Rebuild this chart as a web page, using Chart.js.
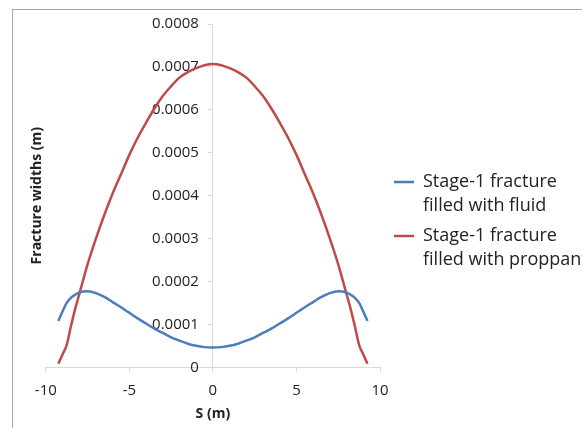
<!DOCTYPE html>
<html><head><meta charset="utf-8">
<script src="https://cdn.jsdelivr.net/npm/chart.js@4/dist/chart.umd.min.js"></script>
<style>
html,body{margin:0;padding:0;background:#fff;}
#wrap{position:relative;width:582px;height:428px;overflow:hidden;}
#frame{position:absolute;left:12px;top:9px;width:640px;height:520px;border:1px solid #a6a6a6;box-sizing:border-box;pointer-events:none;}
canvas{position:absolute;left:0;top:0;}
</style></head><body>
<div id="wrap"><canvas id="c" width="582" height="428"></canvas><div id="frame"></div></div>
<script>
const sValues = [-9.25,-9,-8.75,-8.5,-8.25,-8,-7.5,-7,-6.5,-6,-5.5,-5,-4.5,-4,-3.5,-3,-2.5,-2,-1.5,-1,-0.5,0,
  0.5,1,1.5,2,2.5,3,3.5,4,4.5,5,5.5,6,6.5,7,7.5,8,8.25,8.5,8.75,9,9.25];
const fluidWidths = [1.08e-4,1.30e-4,1.50e-4,1.62e-4,1.69e-4,1.74e-4,1.77e-4,1.73e-4,1.64e-4,1.52e-4,1.40e-4,1.27e-4,1.14e-4,1.02e-4,0.90e-4,0.80e-4,0.70e-4,0.62e-4,0.55e-4,0.50e-4,0.47e-4,0.46e-4,
  0.47e-4,0.50e-4,0.55e-4,0.62e-4,0.70e-4,0.80e-4,0.90e-4,1.02e-4,1.14e-4,1.27e-4,1.40e-4,1.52e-4,1.64e-4,1.73e-4,1.77e-4,1.74e-4,1.69e-4,1.62e-4,1.50e-4,1.30e-4,1.08e-4];
const proppantWidths = [0.08e-4,0.30e-4,0.52e-4,0.95e-4,1.35e-4,1.70e-4,2.40e-4,3.00e-4,3.55e-4,4.05e-4,4.50e-4,4.95e-4,5.35e-4,5.70e-4,6.03e-4,6.32e-4,6.55e-4,6.75e-4,6.88e-4,6.97e-4,7.04e-4,7.07e-4,
  7.04e-4,6.97e-4,6.88e-4,6.75e-4,6.55e-4,6.32e-4,6.03e-4,5.70e-4,5.35e-4,4.95e-4,4.50e-4,4.05e-4,3.55e-4,3.00e-4,2.40e-4,1.70e-4,1.35e-4,0.95e-4,0.52e-4,0.30e-4,0.08e-4];
const seriesLabels = [['Stage-1 fracture','filled with fluid'],['Stage-1 fracture','filled with proppant']];
const seriesColors = ['#4a7ebb','#be4b48'];
const xAxisTitle = 'S (m)';
const yAxisTitle = 'Fracture widths (m)';
const xMin = -10, xMax = 10, xStep = 5;
const yMin = 0, yMax = 0.0008, yStep = 0.0001;
const yAxisCrossesAt = 0;

const FONT = "'Open Sans', 'Noto Sans', sans-serif";
const series = [fluidWidths, proppantWidths];

const placement = {
  id: 'placement',
  afterLayout(chart) {
    const lg = chart.legend;
    if (lg) {
      lg.left += 8; lg.right = chart.width + 40; lg.width = lg.right - lg.left;
      lg.top += 2; lg.bottom += 2;
    }
    const y = chart.scales.y;
    const px = chart.scales.x.getPixelForValue(yAxisCrossesAt);
    y.left = px - 100; y.right = px;
  }
};

new Chart(document.getElementById('c'), {
  type: 'line',
  data: {
    datasets: series.map((vals, i) => ({
      label: seriesLabels[i],
      data: sValues.map((s, j) => ({x: s, y: vals[j]})),
      borderColor: seriesColors[i],
      backgroundColor: seriesColors[i],
      borderWidth: 2.5,
      pointRadius: 0,
      cubicInterpolationMode: 'monotone',
      fill: false
    }))
  },
  options: {
    responsive: false,
    animation: false,
    layout: {padding: {left: 29, right: 3, top: 24, bottom: 8}},
    plugins: {
      tooltip: {enabled: false},
      legend: {
        position: 'right',
        maxWidth: 199,
        labels: {
          usePointStyle: true,
          pointStyle: 'line',
          pointStyleWidth: 20,
          padding: 6,
          color: '#222',
          font: {family: FONT, size: 18, lineHeight: 1.333}
        }
      }
    },
    scales: {
      x: {
        type: 'linear',
        position: 'bottom',
        min: xMin, max: xMax,
        ticks: {stepSize: xStep, color: '#222', padding: 10, font: {family: FONT, size: 15, lineHeight: 1.1}},
        grid: {display: true, drawOnChartArea: false, drawTicks: true, tickLength: 5, color: '#d9d9d9'},
        border: {display: true, color: '#d9d9d9', width: 1},
        title: {display: true, text: xAxisTitle, color: '#222', padding: {top: 0, bottom: 0}, font: {family: FONT, size: 14, weight: 'bold', lineHeight: 0.8}}
      },
      y: {
        type: 'linear',
        position: 'left',
        weight: 1,
        min: yMin, max: yMax,
        afterFit: s => { s.width = 0; },
        ticks: {stepSize: yStep, color: '#222', padding: 9, font: {family: FONT, size: 15},
          callback: v => (Math.abs(v) < 1e-12 ? '0' : v.toFixed(4))},
        grid: {display: true, drawOnChartArea: false, drawTicks: true, tickLength: 5, color: '#d9d9d9'},
        border: {display: true, color: '#d9d9d9', width: 1},
        title: {display: false}
      },
      yTitle: {
        type: 'linear',
        position: 'left',
        weight: 2,
        min: 0, max: 1,
        ticks: {display: false},
        grid: {display: false, drawTicks: false},
        border: {display: false},
        title: {display: true, text: yAxisTitle, color: '#222', padding: {top: 0, bottom: 0}, font: {family: FONT, size: 14, weight: 'bold'}}
      }
    }
  },
  plugins: [placement]
});
</script>
</body></html>
